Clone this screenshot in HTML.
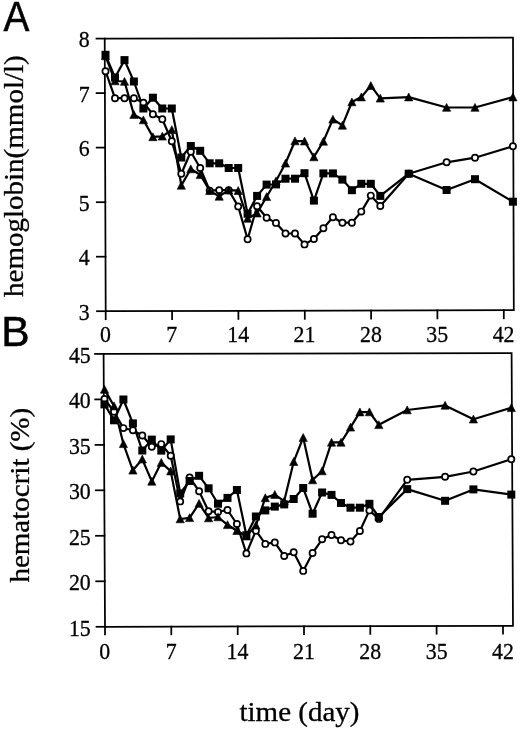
<!DOCTYPE html>
<html><head><meta charset="utf-8"><title>Hemoglobin and hematocrit over time</title>
<style>
html,body{margin:0;padding:0;background:#fff;}
body{width:520px;height:730px;overflow:hidden;font-family:"Liberation Serif",serif;}
svg{display:block;will-change:transform;}
</style></head><body>
<svg width="520" height="730" viewBox="0 0 520 730"><g fill="none" stroke="#000" stroke-width="1.75" stroke-linecap="square" stroke-linejoin="miter"><path d="M104.7 38.6L513.0 37.7L513.8 310.2L105.7 311.2Z"/><path d="M96.5 38.6H104.7"/><path d="M96.6 93.1H104.9"/><path d="M96.7 147.6H105.1"/><path d="M96.8 202.2H105.3"/><path d="M96.9 256.7H105.5"/><path d="M97.0 311.2H105.7"/><path d="M105.7 311.2V319.2"/><path d="M172.1 311.0V319.1"/><path d="M238.4 310.9V318.9"/><path d="M304.8 310.7V318.8"/><path d="M371.1 310.5V318.6"/><path d="M437.4 310.4V318.4"/><path d="M503.8 310.2V318.3"/><path d="M103.6 353.9L511.6 353.1L513.0 625.8L105.0 626.8Z"/><path d="M95.0 353.9H103.6"/><path d="M95.2 399.4H103.8"/><path d="M95.5 444.9H104.1"/><path d="M95.8 490.3H104.3"/><path d="M96.0 535.8H104.5"/><path d="M96.2 581.3H104.8"/><path d="M96.5 626.8H105.0"/><path d="M105.0 626.8V634.4"/><path d="M171.3 626.6V634.3"/><path d="M237.7 626.5V634.1"/><path d="M304.0 626.3V634.0"/><path d="M370.3 626.1V633.9"/><path d="M436.6 626.0V633.7"/><path d="M503.0 625.8V633.6"/></g><g fill="none" stroke="#000" stroke-width="2.2" stroke-linejoin="round"><polyline points="105.5,71.2 115.0,98.2 124.5,98.2 133.9,98.2 143.4,102.8 152.9,114.3 162.3,119.2 171.8,141.3 181.3,173.8 190.8,151.7 200.2,168 209.7,190.6 219.2,190.2 228.7,190.2 238.2,206.4 247.6,239.2 257.1,206.2 266.6,217.8 276.0,222.9 285.5,233.5 295.0,233.5 304.5,244.4 313.9,239 323.4,228.2 332.9,217.3 342.4,222.7 351.9,222.7 361.3,211.6 370.8,195.6 380.3,206 408.7,173.7 446.6,162.3 475.0,157.7 512.9,146.3"/><polyline points="105.5,56 115.0,81 124.5,81.5 133.9,114.6 143.4,120 152.9,136.9 162.3,136.3 171.8,129.8 181.3,185.4 190.8,169 200.2,174.8 209.7,190.7 219.2,196.4 228.7,190.2 238.2,190.7 247.6,218.5 257.1,213.2 266.6,196.8 276.0,181 285.5,163.3 295.0,141 304.5,141.2 313.9,157 323.4,141.4 332.9,119.3 342.4,125.4 351.9,102 361.3,97.1 370.8,85.7 380.3,98.3 408.7,97.1 446.6,107.5 475.0,107.5 512.9,97.1"/><polyline points="105.5,54.8 115.0,77.5 124.5,60.1 133.9,81.5 143.4,108.5 152.9,97.7 162.3,108.5 171.8,108.5 181.3,157.5 190.8,146 200.2,150.8 209.7,163.3 219.2,163.3 228.7,168 238.2,168 247.6,213.7 257.1,195.9 266.6,184.6 276.0,184.4 285.5,178.7 295.0,178.7 304.5,173.2 313.9,200.6 323.4,173.4 332.9,173.4 342.4,179.6 351.9,190.2 361.3,183.8 370.8,183.8 380.3,195.9 408.7,173.7 446.6,190 475.0,179.2 512.9,201.7"/></g><g fill="#fff" stroke="#000" stroke-width="1.7"><circle cx="105.5" cy="71.2" r="3.1"/><circle cx="115.0" cy="98.2" r="3.1"/><circle cx="124.5" cy="98.2" r="3.1"/><circle cx="133.9" cy="98.2" r="3.1"/><circle cx="143.4" cy="102.8" r="3.1"/><circle cx="152.9" cy="114.3" r="3.1"/><circle cx="162.3" cy="119.2" r="3.1"/><circle cx="171.8" cy="141.3" r="3.1"/><circle cx="181.3" cy="173.8" r="3.1"/><circle cx="190.8" cy="151.7" r="3.1"/><circle cx="200.2" cy="168.0" r="3.1"/><circle cx="209.7" cy="190.6" r="3.1"/><circle cx="219.2" cy="190.2" r="3.1"/><circle cx="228.7" cy="190.2" r="3.1"/><circle cx="238.2" cy="206.4" r="3.1"/><circle cx="247.6" cy="239.2" r="3.1"/><circle cx="257.1" cy="206.2" r="3.1"/><circle cx="266.6" cy="217.8" r="3.1"/><circle cx="276.0" cy="222.9" r="3.1"/><circle cx="285.5" cy="233.5" r="3.1"/><circle cx="295.0" cy="233.5" r="3.1"/><circle cx="304.5" cy="244.4" r="3.1"/><circle cx="313.9" cy="239.0" r="3.1"/><circle cx="323.4" cy="228.2" r="3.1"/><circle cx="332.9" cy="217.3" r="3.1"/><circle cx="342.4" cy="222.7" r="3.1"/><circle cx="351.9" cy="222.7" r="3.1"/><circle cx="361.3" cy="211.6" r="3.1"/><circle cx="370.8" cy="195.6" r="3.1"/><circle cx="380.3" cy="206.0" r="3.1"/><circle cx="408.7" cy="173.7" r="3.1"/><circle cx="446.6" cy="162.3" r="3.1"/><circle cx="475.0" cy="157.7" r="3.1"/><circle cx="512.9" cy="146.3" r="3.1"/></g><g fill="#000" stroke="#000" stroke-width="0.6" stroke-linejoin="round"><path d="M105.5 51.9L109.6 59.8L101.4 59.8Z"/><path d="M115.0 76.9L119.1 84.8L110.9 84.8Z"/><path d="M124.5 77.4L128.6 85.3L120.4 85.3Z"/><path d="M133.9 110.5L138.0 118.4L129.8 118.4Z"/><path d="M143.4 115.9L147.5 123.8L139.3 123.8Z"/><path d="M152.9 132.8L157.0 140.7L148.8 140.7Z"/><path d="M162.3 132.2L166.4 140.1L158.2 140.1Z"/><path d="M171.8 125.7L175.9 133.6L167.7 133.6Z"/><path d="M181.3 181.3L185.4 189.2L177.2 189.2Z"/><path d="M190.8 164.9L194.9 172.8L186.7 172.8Z"/><path d="M200.2 170.7L204.3 178.6L196.1 178.6Z"/><path d="M209.7 186.6L213.8 194.5L205.6 194.5Z"/><path d="M219.2 192.3L223.3 200.2L215.1 200.2Z"/><path d="M228.7 186.1L232.8 194.0L224.6 194.0Z"/><path d="M238.2 186.6L242.3 194.5L234.1 194.5Z"/><path d="M247.6 214.4L251.7 222.3L243.5 222.3Z"/><path d="M257.1 209.1L261.2 217.0L253.0 217.0Z"/><path d="M266.6 192.7L270.7 200.6L262.5 200.6Z"/><path d="M276.0 176.9L280.1 184.8L271.9 184.8Z"/><path d="M285.5 159.2L289.6 167.1L281.4 167.1Z"/><path d="M295.0 136.9L299.1 144.8L290.9 144.8Z"/><path d="M304.5 137.1L308.6 145.0L300.4 145.0Z"/><path d="M313.9 152.9L318.0 160.8L309.8 160.8Z"/><path d="M323.4 137.3L327.5 145.2L319.3 145.2Z"/><path d="M332.9 115.2L337.0 123.1L328.8 123.1Z"/><path d="M342.4 121.3L346.5 129.2L338.3 129.2Z"/><path d="M351.9 97.9L356.0 105.8L347.8 105.8Z"/><path d="M361.3 93.0L365.4 100.9L357.2 100.9Z"/><path d="M370.8 81.6L374.9 89.5L366.7 89.5Z"/><path d="M380.3 94.2L384.4 102.1L376.2 102.1Z"/><path d="M408.7 93.0L412.8 100.9L404.6 100.9Z"/><path d="M446.6 103.4L450.7 111.3L442.5 111.3Z"/><path d="M475.0 103.4L479.1 111.3L470.9 111.3Z"/><path d="M512.9 93.0L517.0 100.9L508.8 100.9Z"/></g><g fill="#000"><rect x="101.5" y="50.8" width="8.0" height="8.0"/><rect x="111.0" y="73.5" width="8.0" height="8.0"/><rect x="120.5" y="56.1" width="8.0" height="8.0"/><rect x="129.9" y="77.5" width="8.0" height="8.0"/><rect x="139.4" y="104.5" width="8.0" height="8.0"/><rect x="148.9" y="93.7" width="8.0" height="8.0"/><rect x="158.3" y="104.5" width="8.0" height="8.0"/><rect x="167.8" y="104.5" width="8.0" height="8.0"/><rect x="177.3" y="153.5" width="8.0" height="8.0"/><rect x="186.8" y="142.0" width="8.0" height="8.0"/><rect x="196.2" y="146.8" width="8.0" height="8.0"/><rect x="205.7" y="159.3" width="8.0" height="8.0"/><rect x="215.2" y="159.3" width="8.0" height="8.0"/><rect x="224.7" y="164.0" width="8.0" height="8.0"/><rect x="234.2" y="164.0" width="8.0" height="8.0"/><rect x="243.6" y="209.7" width="8.0" height="8.0"/><rect x="253.1" y="191.9" width="8.0" height="8.0"/><rect x="262.6" y="180.6" width="8.0" height="8.0"/><rect x="272.0" y="180.4" width="8.0" height="8.0"/><rect x="281.5" y="174.7" width="8.0" height="8.0"/><rect x="291.0" y="174.7" width="8.0" height="8.0"/><rect x="300.5" y="169.2" width="8.0" height="8.0"/><rect x="309.9" y="196.6" width="8.0" height="8.0"/><rect x="319.4" y="169.4" width="8.0" height="8.0"/><rect x="328.9" y="169.4" width="8.0" height="8.0"/><rect x="338.4" y="175.6" width="8.0" height="8.0"/><rect x="347.9" y="186.2" width="8.0" height="8.0"/><rect x="357.3" y="179.8" width="8.0" height="8.0"/><rect x="366.8" y="179.8" width="8.0" height="8.0"/><rect x="376.3" y="191.9" width="8.0" height="8.0"/><rect x="404.7" y="169.7" width="8.0" height="8.0"/><rect x="442.6" y="186.0" width="8.0" height="8.0"/><rect x="471.0" y="175.2" width="8.0" height="8.0"/><rect x="508.9" y="197.7" width="8.0" height="8.0"/></g><g fill="none" stroke="#000" stroke-width="2.2" stroke-linejoin="round"><polyline points="104.5,399 114.0,411.7 123.4,428.1 132.9,430.2 142.3,435.5 151.8,446.8 161.3,444.1 170.7,455.7 180.2,501.4 189.6,477.5 199.1,491.2 208.6,511.3 218.0,511.9 227.5,510 236.9,524 246.4,553.4 255.9,530.7 265.3,543.9 274.8,542.4 284.2,556 293.7,552.2 303.2,570.9 312.6,553 322.1,539.3 331.5,535 341.0,540.3 350.5,541.5 359.9,531 369.4,510.4 378.8,518.9 407.2,479.8 445.1,476.8 473.4,471.5 511.3,459.2"/><polyline points="104.5,389.4 114.0,406 123.4,443.8 132.9,470.3 142.3,459.2 151.8,481.4 161.3,462.6 170.7,471.1 180.2,519 189.6,517.8 199.1,503.5 208.6,518 218.0,517 227.5,524.8 236.9,530.7 246.4,536.2 255.9,525.3 265.3,497.9 274.8,494.6 284.2,501.1 293.7,461.7 303.2,437.6 312.6,480 322.1,471 331.5,442.4 341.0,442.4 350.5,427.3 359.9,412.1 369.4,412 378.8,424.8 407.2,410 445.1,405.4 473.4,419.2 511.3,407.8"/><polyline points="104.5,404.4 114.0,420.3 123.4,399.5 132.9,423.4 142.3,450.5 151.8,439.6 161.3,450.6 170.7,439.4 180.2,493.5 189.6,481 199.1,475.8 208.6,488.3 218.0,503.7 227.5,497.9 236.9,490 246.4,535.2 255.9,516.5 265.3,510.4 274.8,506.6 284.2,504.4 293.7,499 303.2,488 312.6,513.7 322.1,492.5 331.5,494.9 341.0,503 350.5,507.7 359.9,507.7 369.4,503.8 378.8,517 407.2,489.1 445.1,500.8 473.4,489.4 511.3,494.6"/></g><g fill="#fff" stroke="#000" stroke-width="1.7"><circle cx="104.5" cy="399.0" r="3.1"/><circle cx="114.0" cy="411.7" r="3.1"/><circle cx="123.4" cy="428.1" r="3.1"/><circle cx="132.9" cy="430.2" r="3.1"/><circle cx="142.3" cy="435.5" r="3.1"/><circle cx="151.8" cy="446.8" r="3.1"/><circle cx="161.3" cy="444.1" r="3.1"/><circle cx="170.7" cy="455.7" r="3.1"/><circle cx="180.2" cy="501.4" r="3.1"/><circle cx="189.6" cy="477.5" r="3.1"/><circle cx="199.1" cy="491.2" r="3.1"/><circle cx="208.6" cy="511.3" r="3.1"/><circle cx="218.0" cy="511.9" r="3.1"/><circle cx="227.5" cy="510.0" r="3.1"/><circle cx="236.9" cy="524.0" r="3.1"/><circle cx="246.4" cy="553.4" r="3.1"/><circle cx="255.9" cy="530.7" r="3.1"/><circle cx="265.3" cy="543.9" r="3.1"/><circle cx="274.8" cy="542.4" r="3.1"/><circle cx="284.2" cy="556.0" r="3.1"/><circle cx="293.7" cy="552.2" r="3.1"/><circle cx="303.2" cy="570.9" r="3.1"/><circle cx="312.6" cy="553.0" r="3.1"/><circle cx="322.1" cy="539.3" r="3.1"/><circle cx="331.5" cy="535.0" r="3.1"/><circle cx="341.0" cy="540.3" r="3.1"/><circle cx="350.5" cy="541.5" r="3.1"/><circle cx="359.9" cy="531.0" r="3.1"/><circle cx="369.4" cy="510.4" r="3.1"/><circle cx="378.8" cy="518.9" r="3.1"/><circle cx="407.2" cy="479.8" r="3.1"/><circle cx="445.1" cy="476.8" r="3.1"/><circle cx="473.4" cy="471.5" r="3.1"/><circle cx="511.3" cy="459.2" r="3.1"/></g><g fill="#000" stroke="#000" stroke-width="0.6" stroke-linejoin="round"><path d="M104.5 385.3L108.6 393.2L100.4 393.2Z"/><path d="M114.0 401.9L118.1 409.8L109.9 409.8Z"/><path d="M123.4 439.7L127.5 447.6L119.3 447.6Z"/><path d="M132.9 466.2L137.0 474.1L128.8 474.1Z"/><path d="M142.3 455.1L146.4 463.0L138.2 463.0Z"/><path d="M151.8 477.3L155.9 485.2L147.7 485.2Z"/><path d="M161.3 458.5L165.4 466.4L157.2 466.4Z"/><path d="M170.7 467.0L174.8 474.9L166.6 474.9Z"/><path d="M180.2 514.9L184.3 522.8L176.1 522.8Z"/><path d="M189.6 513.7L193.7 521.6L185.5 521.6Z"/><path d="M199.1 499.4L203.2 507.3L195.0 507.3Z"/><path d="M208.6 513.9L212.7 521.8L204.5 521.8Z"/><path d="M218.0 512.9L222.1 520.8L213.9 520.8Z"/><path d="M227.5 520.7L231.6 528.6L223.4 528.6Z"/><path d="M236.9 526.6L241.0 534.5L232.8 534.5Z"/><path d="M246.4 532.1L250.5 540.0L242.3 540.0Z"/><path d="M255.9 521.2L260.0 529.1L251.8 529.1Z"/><path d="M265.3 493.8L269.4 501.7L261.2 501.7Z"/><path d="M274.8 490.5L278.9 498.4L270.7 498.4Z"/><path d="M284.2 497.0L288.3 504.9L280.1 504.9Z"/><path d="M293.7 457.6L297.8 465.5L289.6 465.5Z"/><path d="M303.2 433.5L307.3 441.4L299.1 441.4Z"/><path d="M312.6 475.9L316.7 483.8L308.5 483.8Z"/><path d="M322.1 466.9L326.2 474.8L318.0 474.8Z"/><path d="M331.5 438.3L335.6 446.2L327.4 446.2Z"/><path d="M341.0 438.3L345.1 446.2L336.9 446.2Z"/><path d="M350.5 423.2L354.6 431.1L346.4 431.1Z"/><path d="M359.9 408.0L364.0 415.9L355.8 415.9Z"/><path d="M369.4 407.9L373.5 415.8L365.3 415.8Z"/><path d="M378.8 420.7L382.9 428.6L374.7 428.6Z"/><path d="M407.2 405.9L411.3 413.8L403.1 413.8Z"/><path d="M445.1 401.3L449.2 409.2L441.0 409.2Z"/><path d="M473.4 415.1L477.5 423.0L469.3 423.0Z"/><path d="M511.3 403.7L515.4 411.6L507.2 411.6Z"/></g><g fill="#000"><rect x="100.5" y="400.4" width="8.0" height="8.0"/><rect x="110.0" y="416.3" width="8.0" height="8.0"/><rect x="119.4" y="395.5" width="8.0" height="8.0"/><rect x="128.9" y="419.4" width="8.0" height="8.0"/><rect x="138.3" y="446.5" width="8.0" height="8.0"/><rect x="147.8" y="435.6" width="8.0" height="8.0"/><rect x="157.3" y="446.6" width="8.0" height="8.0"/><rect x="166.7" y="435.4" width="8.0" height="8.0"/><rect x="176.2" y="489.5" width="8.0" height="8.0"/><rect x="185.6" y="477.0" width="8.0" height="8.0"/><rect x="195.1" y="471.8" width="8.0" height="8.0"/><rect x="204.6" y="484.3" width="8.0" height="8.0"/><rect x="214.0" y="499.7" width="8.0" height="8.0"/><rect x="223.5" y="493.9" width="8.0" height="8.0"/><rect x="232.9" y="486.0" width="8.0" height="8.0"/><rect x="242.4" y="531.2" width="8.0" height="8.0"/><rect x="251.9" y="512.5" width="8.0" height="8.0"/><rect x="261.3" y="506.4" width="8.0" height="8.0"/><rect x="270.8" y="502.6" width="8.0" height="8.0"/><rect x="280.2" y="500.4" width="8.0" height="8.0"/><rect x="289.7" y="495.0" width="8.0" height="8.0"/><rect x="299.2" y="484.0" width="8.0" height="8.0"/><rect x="308.6" y="509.7" width="8.0" height="8.0"/><rect x="318.1" y="488.5" width="8.0" height="8.0"/><rect x="327.5" y="490.9" width="8.0" height="8.0"/><rect x="337.0" y="499.0" width="8.0" height="8.0"/><rect x="346.5" y="503.7" width="8.0" height="8.0"/><rect x="355.9" y="503.7" width="8.0" height="8.0"/><rect x="365.4" y="499.8" width="8.0" height="8.0"/><rect x="374.8" y="513.0" width="8.0" height="8.0"/><rect x="403.2" y="485.1" width="8.0" height="8.0"/><rect x="441.1" y="496.8" width="8.0" height="8.0"/><rect x="469.4" y="485.4" width="8.0" height="8.0"/><rect x="507.3" y="490.6" width="8.0" height="8.0"/></g><g font-family="Liberation Serif, serif" font-size="23.5" fill="#000" stroke="#000" stroke-width="0.3"><text transform="translate(89.8 47.4) scale(0.93 1)" text-anchor="end">8</text><text transform="translate(89.8 101.9) scale(0.93 1)" text-anchor="end">7</text><text transform="translate(89.8 156.4) scale(0.93 1)" text-anchor="end">6</text><text transform="translate(89.8 210.9) scale(0.93 1)" text-anchor="end">5</text><text transform="translate(89.8 265.4) scale(0.93 1)" text-anchor="end">4</text><text transform="translate(89.8 319.9) scale(0.93 1)" text-anchor="end">3</text><text transform="translate(105.5 342.4) scale(0.93 1)" text-anchor="middle">0</text><text transform="translate(171.8 342.4) scale(0.93 1)" text-anchor="middle">7</text><text transform="translate(238.2 342.4) scale(0.93 1)" text-anchor="middle">14</text><text transform="translate(304.5 342.4) scale(0.93 1)" text-anchor="middle">21</text><text transform="translate(370.9 342.4) scale(0.93 1)" text-anchor="middle">28</text><text transform="translate(437.2 342.4) scale(0.93 1)" text-anchor="middle">35</text><text transform="translate(503.6 342.4) scale(0.93 1)" text-anchor="middle">42</text><text transform="translate(90.8 362.8) scale(0.93 1)" text-anchor="end">45</text><text transform="translate(90.8 408.3) scale(0.93 1)" text-anchor="end">40</text><text transform="translate(90.8 453.8) scale(0.93 1)" text-anchor="end">35</text><text transform="translate(90.8 499.2) scale(0.93 1)" text-anchor="end">30</text><text transform="translate(90.8 544.7) scale(0.93 1)" text-anchor="end">25</text><text transform="translate(90.8 590.2) scale(0.93 1)" text-anchor="end">20</text><text transform="translate(90.8 635.7) scale(0.93 1)" text-anchor="end">15</text><text transform="translate(104.8 659.3) scale(0.93 1)" text-anchor="middle">0</text><text transform="translate(171.2 659.3) scale(0.93 1)" text-anchor="middle">7</text><text transform="translate(237.5 659.3) scale(0.93 1)" text-anchor="middle">14</text><text transform="translate(303.9 659.3) scale(0.93 1)" text-anchor="middle">21</text><text transform="translate(370.3 659.3) scale(0.93 1)" text-anchor="middle">28</text><text transform="translate(436.7 659.3) scale(0.93 1)" text-anchor="middle">35</text><text transform="translate(503.0 659.3) scale(0.93 1)" text-anchor="middle">42</text></g><g font-family="Liberation Serif, serif" font-size="27" fill="#000" stroke="#000" stroke-width="0.3"><text transform="translate(23.4 297) rotate(-90) scale(1.075 1)">hemoglobin(mmol/l)</text><text transform="translate(29.2 582.6) rotate(-90) scale(1.075 1)">hematocrit (%)</text><text transform="translate(239.5 721) scale(1.075 1)">time (day)</text></g><g font-family="Liberation Sans, sans-serif" font-size="42.5" fill="#000" stroke="#000" stroke-width="0.5"><text transform="translate(3.6 31.3) scale(0.914 1)">A</text><text transform="translate(1.3 346) scale(1.0 1)">B</text></g></svg>
</body></html>
